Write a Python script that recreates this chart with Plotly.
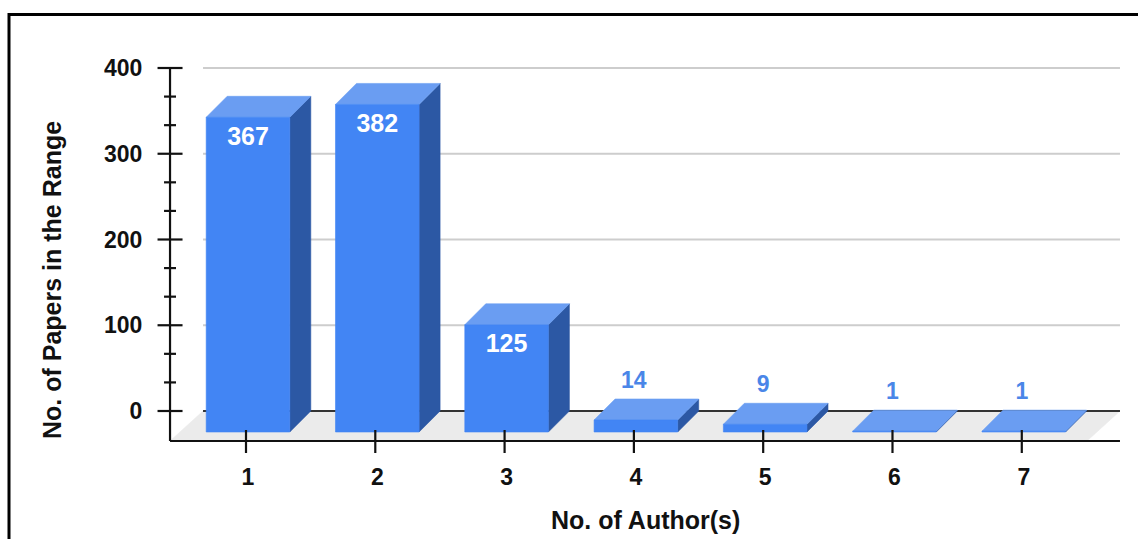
import plotly.graph_objects as go

# ---- data ----
authors = ["1", "2", "3", "4", "5", "6", "7"]
papers = [367, 382, 125, 14, 9, 1, 1]
y_ticks = [0, 100, 200, 300, 400]
y_minor_step = 100 / 3

# ---- pseudo-3D geometry (pixel sizes turned into data units) ----
PX_PER_CAT = 129.3      # horizontal pixels per category
PX_PER_VAL = 0.8575     # vertical pixels per value unit


def dx(px):
    return px / PX_PER_CAT


def dv(px):
    return px / PX_PER_VAL


BAR_HALF = dx(41.8)          # half width of a bar front face
BAR_DX, BAR_DV = dx(21), dv(21)     # bar depth
FLOOR_DX, FLOOR_DV = dx(33), dv(30)  # floor depth
AXIS_X0, AXIS_X1 = 0.397, 7.744     # extent of the category axis

FRONT = "#4285F4"
TOP = "#6A9DF2"
SIDE = "#2C58A4"
LABEL_OUT = "#4A86E8"
FONT = "Liberation Sans, Arial, sans-serif"

x_pos = list(range(1, len(authors) + 1))

fig = go.Figure()


def poly_trace(polys, color, name):
    xs, ys = [], []
    for p in polys:
        xs += [pt[0] for pt in p] + [p[0][0], None]
        ys += [pt[1] for pt in p] + [p[0][1], None]
    return go.Scatter(x=xs, y=ys, mode="lines", fill="toself", fillcolor=color,
                      line=dict(width=0.6, color=color), hoverinfo="skip",
                      name=name, showlegend=False)


def seg_trace(segs, color, width, name):
    xs, ys = [], []
    for (x0, y0), (x1, y1) in segs:
        xs += [x0, x1, None]
        ys += [y0, y1, None]
    return go.Scatter(x=xs, y=ys, mode="lines", line=dict(color=color, width=width),
                      hoverinfo="skip", name=name, showlegend=False)


# floor
floor = [(AXIS_X0, -FLOOR_DV), (AXIS_X0 + FLOOR_DX, 0), (AXIS_X1, 0),
         (AXIS_X1 - FLOOR_DX, -FLOOR_DV)]
fig.add_trace(poly_trace([floor], "#EBEBEB", "floor"))

# back-wall gridlines
grid = [((AXIS_X0 + FLOOR_DX, t), (AXIS_X1, t)) for t in y_ticks if t > 0]
fig.add_trace(seg_trace(grid, "#CDCDCD", 2, "grid"))
fig.add_trace(seg_trace([((AXIS_X0 + FLOOR_DX, 0), (AXIS_X1, 0))], "#333333", 2, "base"))
fig.add_trace(seg_trace([((AXIS_X0, -FLOOR_DV), (AXIS_X1, -FLOOR_DV))], "#111111", 2.2, "x-axis"))

# bars: side, top, front faces
sides, tops, fronts = [], [], []
for x, v in zip(x_pos, papers):
    l, r = x - BAR_HALF, x + BAR_HALF
    fb, ft = -BAR_DV, v - BAR_DV
    fronts.append([(l, fb), (r, fb), (r, ft), (l, ft)])
    tops.append([(l, ft), (r, ft), (r + BAR_DX, v), (l + BAR_DX, v)])
    sides.append([(r, fb), (r, ft), (r + BAR_DX, v), (r + BAR_DX, 0)])
fig.add_trace(poly_trace(sides, SIDE, "side"))
fig.add_trace(poly_trace(tops, TOP, "top"))
fig.add_trace(poly_trace(fronts, FRONT, "front"))

# value axis line and cross ticks
y_axis = [((AXIS_X0, -FLOOR_DV), (AXIS_X0, max(y_ticks)))]
major = [((AXIS_X0 - dx(12.5), t), (AXIS_X0 + dx(12.5), t)) for t in y_ticks]
minor = []
k = 1
while k * y_minor_step < max(y_ticks):
    val = k * y_minor_step
    if k % 3:
        minor.append(((AXIS_X0 - dx(6), val), (AXIS_X0 + dx(6), val)))
    k += 1
fig.add_trace(seg_trace(y_axis + major + minor, "#111111", 2.2, "y-axis"))

# category ticks
cat_ticks = [((x - dx(2), -FLOOR_DV + dv(11)), (x - dx(2), -FLOOR_DV - dv(12))) for x in x_pos]
fig.add_trace(seg_trace(cat_ticks, "#111111", 2.2, "x-ticks"))

# value labels
in_x, in_y, in_t, out_x, out_y, out_t = [], [], [], [], [], []
for x, v in zip(x_pos, papers):
    if v * PX_PER_VAL > 40:
        in_x.append(x); in_y.append(v - BAR_DV - dv(21)); in_t.append(str(v))
    else:
        out_x.append(x - dx(2)); out_y.append(v + dv(17)); out_t.append(str(v))
fig.add_trace(go.Scatter(x=in_x, y=in_y, text=in_t, mode="text", textposition="middle center",
                         textfont=dict(family=FONT, size=25, color="white", weight="bold"),
                         hoverinfo="skip", showlegend=False, cliponaxis=False))
fig.add_trace(go.Scatter(x=out_x, y=out_y, text=out_t, mode="text", textposition="middle center",
                         textfont=dict(family=FONT, size=23, color=LABEL_OUT, weight="bold"),
                         hoverinfo="skip", showlegend=False, cliponaxis=False))

W, H = 1138, 539
ML, MR, MT, MB = 150, 10, 40, 84
pw, ph = W - ML - MR, H - MT - MB
tick_font = dict(family=FONT, size=23, color="#111111", weight="bold")

fig.update_layout(
    width=W, height=H,
    margin=dict(l=ML, r=MR, t=MT, b=MB, pad=0),
    paper_bgcolor="white", plot_bgcolor="white",
    xaxis=dict(range=[0.2421, 7.806], tickvals=x_pos, ticktext=authors,
               showgrid=False, zeroline=False, showline=False,
               ticks="outside", ticklen=1, tickcolor="rgba(0,0,0,0)",
               tickfont=tick_font, fixedrange=True),
    yaxis=dict(range=[-51.31, 432.65], tickvals=y_ticks,
               ticktext=[str(t) for t in y_ticks],
               showgrid=False, zeroline=False, showline=False,
               ticks="outside", ticklen=2, tickcolor="rgba(0,0,0,0)",
               tickfont=tick_font, fixedrange=True),
    annotations=[
        dict(text="No. of Author(s)", xref="paper", yref="paper",
             x=(645 - ML) / pw, y=(H - MB - 520) / ph, xanchor="center", yanchor="middle",
             showarrow=False,
             font=dict(family=FONT, size=25, color="#111111", weight="bold")),
        dict(text="No. of Papers in the Range", xref="paper", yref="paper",
             x=(52 - ML) / pw, y=(H - MB - 280) / ph, xanchor="center", yanchor="middle",
             textangle=-90, showarrow=False,
             font=dict(family=FONT, size=25, color="#111111", weight="bold")),
    ],
    shapes=[
        dict(type="rect", xref="paper", yref="paper",
             x0=(9 - ML) / pw, x1=(W + 20 - ML) / pw,
             y0=(H - MB - (H + 20)) / ph, y1=(H - MB - 14.5) / ph,
             line=dict(color="black", width=3), fillcolor="rgba(0,0,0,0)", layer="above"),
    ],
)

fig.write_html("out.html")
